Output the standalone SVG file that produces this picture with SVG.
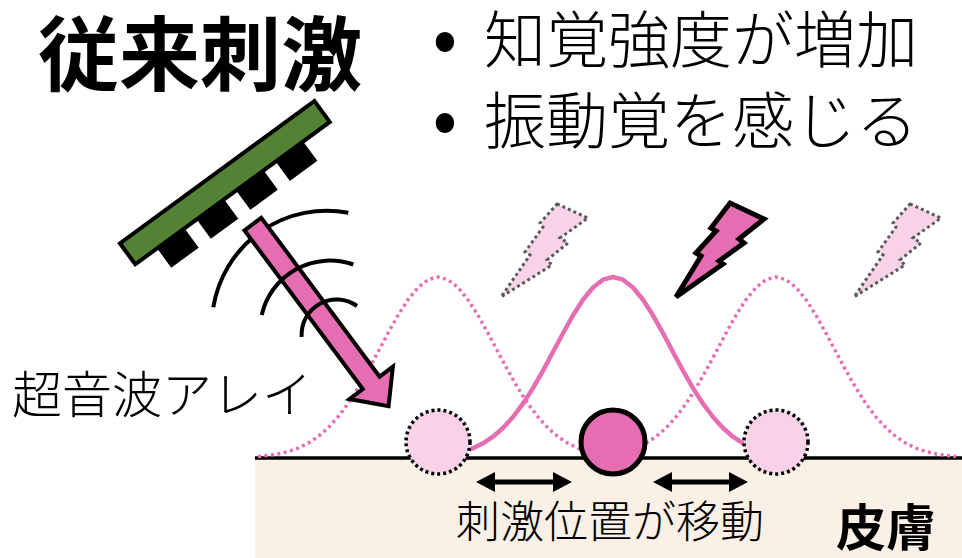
<svg xmlns="http://www.w3.org/2000/svg" width="962" height="558" viewBox="0 0 962 558">
  <style>
    .jp { font-family: 'Noto Sans CJK JP', 'Noto Sans', sans-serif; fill: #000; }
    .light { font-weight: 300; }
    .bold { font-weight: 700; }
    .curve { fill: none; stroke: #E56DB1; stroke-width: 4.5; stroke-linejoin: round; }
    .dotted { stroke-width: 3.5; stroke-dasharray: 3 3.5; }
    .ghost-pt { fill: #F8D3E7; stroke: #000; stroke-width: 3.5; stroke-dasharray: 3 3; }
    .ghost-bolt { fill: #F8D3E7; stroke: #595959; stroke-width: 3; stroke-dasharray: 3 3; }
    .wave { fill: none; stroke: #000; stroke-width: 4; stroke-linecap: butt; }
    .shift { stroke: #000; stroke-width: 5; }
  </style>
  <defs>
    <marker id="head" viewBox="0 0 19 20" refX="5" refY="10" markerWidth="19" markerHeight="20" markerUnits="userSpaceOnUse" orient="auto-start-reverse">
      <path d="M0,0 L19,10 L0,20 z" fill="#000"/>
    </marker>
  </defs>

  <!-- skin -->
  <g id="skin">
    <rect x="255" y="458" width="707" height="100" fill="#FAF0E6"/>
    <line x1="255" y1="458" x2="962" y2="458" stroke="#000" stroke-width="3.5"/>
  </g>

  <!-- intensity profiles -->
  <g id="profiles">
    <path class="curve dotted" d="M258,456.5 L268,455.5 L278,454 L288,451.6 L298,448.2 L308,443.3 L318,436.7 L328,428 L338,417 L348,403.7 L358,388.1 L368,370.6 L378,352 L388,333.2 L398,315.3 L408,299.7 L418,287.5 L428,279.7 L438,277 L448,279.7 L458,287.5 L468,299.7 L478,315.3 L488,333.2 L498,352 L508,370.6 L518,388.1 L528,403.7 L538,417 L548,428 L558,436.7 L568,443.3 L578,448.2 L583,450"/>
    <path class="curve dotted" d="M646,443.3 L656,436.7 L666,428 L676,417 L686,403.7 L696,388.1 L706,370.6 L716,352 L726,333.2 L736,315.3 L746,299.7 L756,287.5 L766,279.7 L776,277 L786,279.7 L796,287.5 L806,299.7 L816,315.3 L826,333.2 L836,352 L846,370.6 L856,388.1 L866,403.7 L876,417 L886,428 L896,436.7 L906,443.3 L916,448.2 L926,451.6 L936,454 L946,455.5 L956,456.5"/>
    <path class="curve" d="M470,449.3 L473,448.2 L483,443.3 L493,436.7 L503,428 L513,417 L523,403.7 L533,388.1 L543,370.6 L553,352 L563,333.2 L573,315.3 L583,299.7 L593,287.5 L603,279.7 L613,277 L623,279.7 L633,287.5 L643,299.7 L653,315.3 L663,333.2 L673,352 L683,370.6 L693,388.1 L703,403.7 L713,417 L723,428 L733,436.7 L743,443.3 L746,444.8"/>
  </g>

  <!-- stimulation points -->
  <g id="point-left"><circle class="ghost-pt" cx="438" cy="442" r="32"/></g>
  <g id="point-center"><circle cx="613" cy="442" r="32" fill="#E56DB1" stroke="#000" stroke-width="5"/></g>
  <g id="point-right"><circle class="ghost-pt" cx="776" cy="442" r="32"/></g>

  <!-- sensation bolts -->
  <g id="bolt-left">
    <polygon class="ghost-bolt" points="557,204 588,218 560,238 568,243 547,260 552,265 501,297 530,255 525,252 543,227 540,223"/>
  </g>
  <g id="bolt-center">
    <polygon points="730,203 764,219 739,239 744,243 719,261 723,264 676,297 701,256 696,253 716,231 711,228" fill="#E56DB1" stroke="#000" stroke-width="5" stroke-linejoin="miter"/>
  </g>
  <g id="bolt-right">
    <polygon class="ghost-bolt" points="910,204 941,218 913,238 921,243 900,260 905,265 854,297 883,255 878,252 896,227 893,223"/>
  </g>

  <!-- ultrasound transducer array -->
  <g id="transducer" transform="translate(126,255) rotate(-36.2)">
    <rect x="29" y="12" width="34" height="25" fill="#000"/>
    <rect x="78" y="12" width="34" height="25" fill="#000"/>
    <rect x="127" y="12" width="34" height="25" fill="#000"/>
    <rect x="176" y="12" width="34" height="25" fill="#000"/>
    <rect x="2" y="-13" width="241" height="26" fill="#548235" stroke="#000" stroke-width="4"/>
  </g>

  <!-- wavefronts and focusing beam -->
  <g id="beam">
    <path class="wave" d="M213.3,307.3 A115,115 0 0 1 348.3,212.7"/>
    <polygon transform="translate(251.7,222.5) rotate(53.3)" points="2,-10.5 200,-10.5 200,-27 229,0 200,27 200,10.5 2,10.5" fill="#E56DB1" stroke="#000" stroke-width="4" stroke-linejoin="miter"/>
    <path class="wave" d="M261.7,315 A70,70 0 0 1 353.3,264.5"/>
    <path class="wave" d="M301.7,337 A35,35 0 0 1 357,306"/>
  </g>

  <!-- position shift arrows -->
  <g id="connectors">
    <line class="shift" x1="490" y1="482" x2="558" y2="482" marker-start="url(#head)" marker-end="url(#head)"/>
    <line class="shift" x1="667" y1="482" x2="734" y2="482" marker-start="url(#head)" marker-end="url(#head)"/>
  </g>

  <!-- labels -->
  <g id="title"><text class="jp bold" x="38" y="84" font-size="81">従来刺激</text></g>
  <g id="bullets">
    <text class="jp light" x="445" y="65" font-size="80" text-anchor="middle">•</text>
    <text class="jp light" x="484" y="63" font-size="62">知覚強度が増加</text>
    <text class="jp light" x="445" y="146" font-size="80" text-anchor="middle">•</text>
    <text class="jp light" x="484" y="144" font-size="62">振動覚を感じる</text>
  </g>
  <g id="label-array"><text class="jp light" x="12" y="413" font-size="50">超音波アレイ</text></g>
  <g id="label-shift"><text class="jp light" x="456" y="538" font-size="44">刺激位置が移動</text></g>
  <g id="label-skin"><text class="jp bold" x="836" y="546" font-size="50">皮膚</text></g>
</svg>
